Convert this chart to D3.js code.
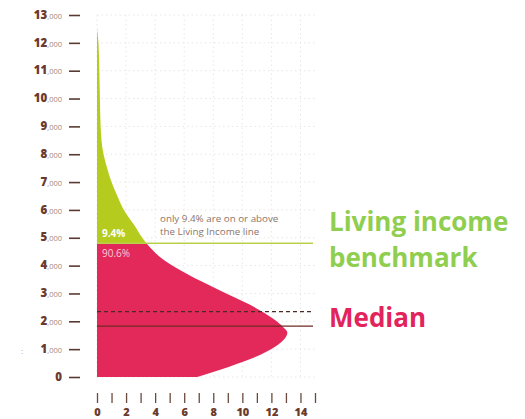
<!DOCTYPE html>
<html>
<head>
<meta charset="utf-8">
<script src="https://cdn.jsdelivr.net/npm/d3@7"></script>
<style>
  body { margin: 0; background: #fff; }
  svg { display: block; }
  .tick text { font-family: "Open Sans", sans-serif; }
</style>
</head>
<body>
<div class="visualization"></div>
<script>
// income levels (USD) and % of households at that level
const incomeLevels = [12500, 12000, 10000, 9000, 8000, 7500, 7000, 6500, 6000, 5500, 4800, 4200, 3700, 3100, 2600, 2100, 1800, 1600, 1100, 0];
const sharePct =     [0,     0.1,   0.2,   0.25, 0.45, 0.7,  1.0,  1.4,  1.85, 2.5,  3.4,  4.6,  6.2,  8.5,  10.5, 12.1, 12.8, 13.1, 12.3, 6.9];

const yTicks = [0, 1000, 2000, 3000, 4000, 5000, 6000, 7000, 8000, 9000, 10000, 11000, 12000, 13000];
const xTicks = [0, 1, 2, 3, 4, 5, 6, 7, 8, 9, 10, 11, 12, 13, 14, 15];
const xLabels = [0, 2, 4, 6, 8, 10, 12, 14];
const gridX = [0, 2, 4, 6, 8, 10, 12, 14];

const livingIncome = 4800;
const median = 1830;
const meanLine = 2350;
const shareAbove = "9.4%";
const shareBelow = "90.6%";

const width = 525, height = 419;

var x = d3.scaleLinear().domain([0, 15]).range([97, 315]);
var y = d3.scaleLinear().domain([0, 13000]).range([377, 15]);

var svg = d3.select(".visualization").append("svg")
  .attr("width", width)
  .attr("height", height);

// faint dotted grid
svg.append("g").selectAll("line").data(yTicks).enter().append("line")
  .attr("x1", x(0)).attr("x2", x(15))
  .attr("y1", d => y(d)).attr("y2", d => y(d))
  .attr("stroke", "#ece6e2").attr("stroke-width", 1)
  .attr("stroke-dasharray", "1.5,3");
svg.append("g").selectAll("line").data(gridX).enter().append("line")
  .attr("x1", d => x(d)).attr("x2", d => x(d))
  .attr("y1", y(13000)).attr("y2", y(0))
  .attr("stroke", "#ece6e2").attr("stroke-width", 1)
  .attr("stroke-dasharray", "1.5,3");

// distribution shape, split at the living income line
var pts = incomeLevels.map((v, i) => [sharePct[i], v]);
var area = d3.area()
  .y(d => y(d[1]))
  .x0(x(0))
  .x1(d => x(d[0]))
  .curve(d3.curveMonotoneY);

var defs = svg.append("defs");
defs.append("clipPath").attr("id", "above").append("rect")
  .attr("x", 0).attr("y", 0).attr("width", width).attr("height", y(livingIncome));
defs.append("clipPath").attr("id", "below").append("rect")
  .attr("x", 0).attr("y", y(livingIncome)).attr("width", width).attr("height", height);

svg.append("path").datum(pts).attr("d", area)
  .attr("fill", "#b5cc1e").attr("clip-path", "url(#above)");
svg.append("path").datum(pts).attr("d", area)
  .attr("fill", "#e2295a").attr("clip-path", "url(#below)");

// reference lines
svg.append("line")
  .attr("x1", x(0)).attr("x2", 313)
  .attr("y1", y(livingIncome)).attr("y2", y(livingIncome))
  .attr("stroke", "#b9d14a").attr("stroke-width", 1.5);
svg.append("line")
  .attr("x1", x(0)).attr("x2", 313)
  .attr("y1", y(meanLine)).attr("y2", y(meanLine))
  .attr("stroke", "#4a2a22").attr("stroke-width", 1.2)
  .attr("stroke-dasharray", "4,3");
svg.append("line")
  .attr("x1", x(0)).attr("x2", 313)
  .attr("y1", y(median)).attr("y2", y(median))
  .attr("stroke", "#6e2a22").attr("stroke-width", 1.3);

// y axis
var yaxis = d3.axisLeft(y).tickValues(yTicks).tickSize(11).tickPadding(7);
var gy = svg.append("g").attr("transform", "translate(80,0)").call(yaxis);
gy.select(".domain").remove();
gy.selectAll(".tick line").attr("stroke", "#5a3a30").attr("stroke-width", 1.6);
gy.selectAll(".tick text").each(function (d) {
  var t = d3.select(this).text(null).attr("fill", "#6b3a2c");
  t.append("tspan").text(d === 0 ? "0" : String(d / 1000))
    .attr("font-size", 11.5).attr("font-weight", 800);
  if (d !== 0) {
    t.append("tspan").text(",000")
      .attr("font-size", 7.5).attr("font-weight", 400).attr("fill", "#a08a80");
  }
});

// x axis
var xaxis = d3.axisBottom(x).tickValues(xTicks).tickSize(10).tickPadding(5)
  .tickFormat(d => xLabels.includes(d) ? d : "");
var gx = svg.append("g").attr("transform", "translate(0,393)").call(xaxis);
gx.select(".domain").remove();
gx.selectAll(".tick line").attr("stroke", "#6b4a3e").attr("stroke-width", 1.3);
gx.selectAll(".tick text")
  .attr("font-size", 11).attr("font-weight", 800).attr("fill", "#6b3a2c");

// annotations inside the plot
svg.append("text").attr("x", 160).attr("y", 222)
  .attr("font-family", "Open Sans, sans-serif").attr("font-size", 9.8).attr("fill", "#8c7468")
  .text("only " + shareAbove + " are on or above");
svg.append("text").attr("x", 160).attr("y", 235)
  .attr("font-family", "Open Sans, sans-serif").attr("font-size", 9.8).attr("fill", "#8c7468")
  .text("the Living Income line");
svg.append("text").attr("x", 102).attr("y", 237)
  .attr("font-family", "Open Sans, sans-serif").attr("font-size", 10).attr("font-weight", 700)
  .attr("fill", "#ffffff").text(shareAbove);
svg.append("text").attr("x", 102).attr("y", 257)
  .attr("font-family", "Open Sans, sans-serif").attr("font-size", 10)
  .attr("fill", "#f7cdd8").text(shareBelow);

// legend labels on the right
svg.append("text").attr("x", 329).attr("y", 231)
  .attr("font-family", "Open Sans, sans-serif").attr("font-size", 26).attr("font-weight", 700)
  .attr("fill", "#8fce4f").text("Living income");
svg.append("text").attr("x", 329).attr("y", 267)
  .attr("font-family", "Open Sans, sans-serif").attr("font-size", 26).attr("font-weight", 700)
  .attr("fill", "#8fce4f").text("benchmark");
svg.append("text").attr("x", 329).attr("y", 327)
  .attr("font-family", "Open Sans, sans-serif").attr("font-size", 26).attr("font-weight", 700)
  .attr("fill", "#e2235c").text("Median");

// stray mark at the left edge of the original
svg.append("text").attr("x", 21).attr("y", 354)
  .attr("font-family", "Open Sans, sans-serif").attr("font-size", 8).attr("fill", "#999")
  .text(":");
</script>
</body>
</html>
